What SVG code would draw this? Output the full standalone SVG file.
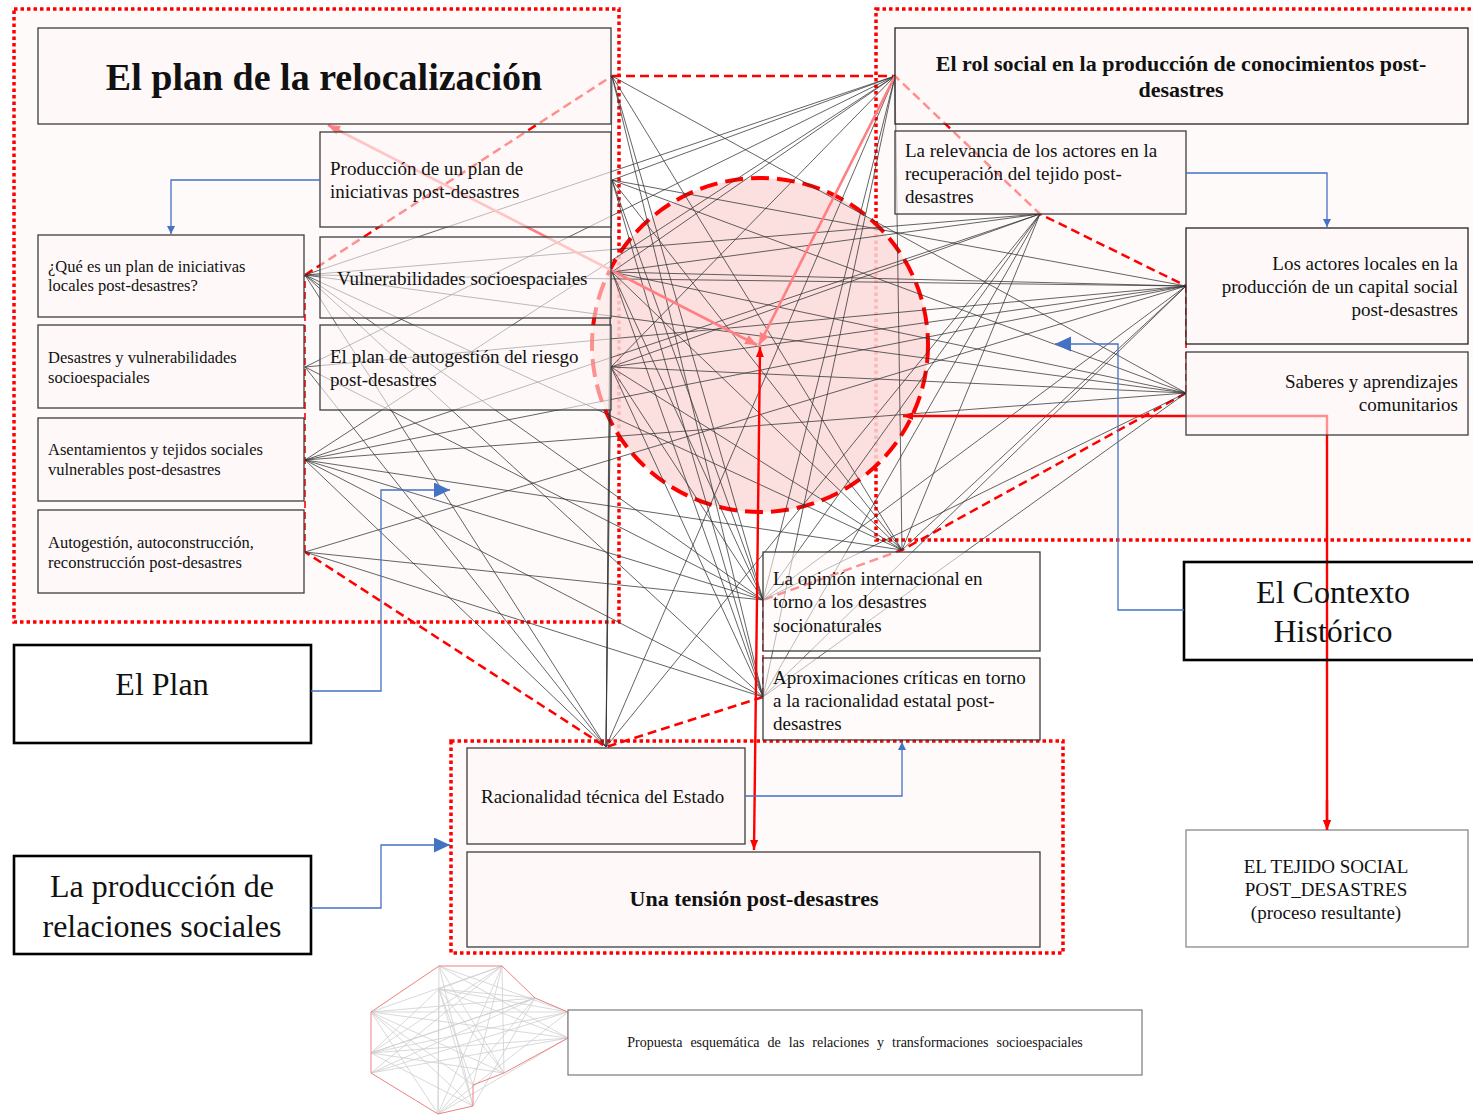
<svg xmlns="http://www.w3.org/2000/svg" width="1473" height="1115" viewBox="0 0 1473 1115">
<style>
.reg{fill:#fefafa;stroke:#ff0000;stroke-width:3.5;stroke-dasharray:3.5 3}
.box{fill:#fdf8f7;fill-opacity:0.58;stroke:#3c3c3c;stroke-width:1.3}
.bigbox{fill:#ffffff;stroke:#000;stroke-width:2.6}
.e line{stroke:#333;stroke-width:0.9;stroke-opacity:0.85}
.hull{fill:none;stroke:#ff0000;stroke-width:2.5;stroke-dasharray:9 5}
.hullthin{fill:none;stroke:#ff0000;stroke-width:1.6;stroke-dasharray:7 4}
.t{font-family:"Liberation Serif","Times New Roman",serif;fill:#111}
.t19{font-size:19px}
.t16{font-size:16.5px}
.big{font-size:32px}
.blue{fill:none;stroke:#4472c4;stroke-width:1.3}
.red{fill:none;stroke:#ff0000;stroke-width:2.4}
.pink{fill:none;stroke:#ff7f82;stroke-width:2.6}
.thumb line{stroke:#cfcfcf;stroke-width:0.8}
</style>
<defs>
<marker id="mBlueS" markerUnits="userSpaceOnUse" markerWidth="10" markerHeight="10" refX="8" refY="4" orient="auto"><path d="M0,0 L8,4 L0,8 z" fill="#4472c4"/></marker>
<marker id="mBlueL" markerUnits="userSpaceOnUse" markerWidth="18" markerHeight="16" refX="16" refY="7.5" orient="auto"><path d="M0,0 L16,7.5 L0,15 z" fill="#4472c4"/></marker>
<marker id="mRed" markerUnits="userSpaceOnUse" markerWidth="12" markerHeight="10" refX="10" refY="4" orient="auto-start-reverse"><path d="M0,0 L10,4 L0,8 z" fill="#ff0000"/></marker>
<marker id="mPink" markerUnits="userSpaceOnUse" markerWidth="14" markerHeight="12" refX="12" refY="5" orient="auto-start-reverse"><path d="M0,0 L12,5 L0,10 z" fill="#ff7f82"/></marker>
</defs>
<rect width="1473" height="1115" fill="#ffffff"/>

<g id="regions">
<rect class="reg" x="14" y="9" width="605" height="613"/>
<rect class="reg" x="876" y="9" width="620" height="531"/>
<rect class="reg" x="451" y="741" width="612" height="212"/>
</g>

<ellipse id="circle" cx="760" cy="345" rx="168" ry="167" fill="#fbd9d9" fill-opacity="0.85" stroke="#ff0000" stroke-width="4" stroke-dasharray="18 8"/>

<g id="connectors">
<g id="hull">
<path class="hull" d="M612,76 L895,76 L1040,214 L1186,286"/>
<path class="hullthin" d="M1186,286 L1186,393"/>
<path class="hull" d="M1186,393 L902,550 L763,600"/>
<path class="hullthin" d="M763,600 L763,697"/>
<path class="hull" d="M763,697 L606,747 L305,552"/>
<path class="hullthin" d="M305,552 L305,275"/>
<path class="hull" d="M305,275 L612,76"/>
</g>
<g class="e">
<line x1="612" y1="76" x2="1186" y2="393"/>
<line x1="612" y1="76" x2="902" y2="550"/>
<line x1="612" y1="76" x2="763" y2="600"/>
<line x1="612" y1="76" x2="763" y2="697"/>
<line x1="612" y1="76" x2="606" y2="747"/>
<line x1="612" y1="180" x2="895" y2="76"/>
<line x1="612" y1="180" x2="1186" y2="286"/>
<line x1="612" y1="180" x2="1186" y2="393"/>
<line x1="612" y1="180" x2="902" y2="550"/>
<line x1="612" y1="180" x2="763" y2="600"/>
<line x1="612" y1="180" x2="763" y2="697"/>
<line x1="612" y1="180" x2="606" y2="747"/>
<line x1="305" y1="275" x2="895" y2="76"/>
<line x1="305" y1="275" x2="1040" y2="214"/>
<line x1="305" y1="275" x2="1186" y2="286"/>
<line x1="305" y1="275" x2="1186" y2="393"/>
<line x1="305" y1="275" x2="902" y2="550"/>
<line x1="305" y1="275" x2="763" y2="600"/>
<line x1="305" y1="275" x2="763" y2="697"/>
<line x1="305" y1="275" x2="606" y2="747"/>
<line x1="612" y1="272" x2="895" y2="76"/>
<line x1="612" y1="272" x2="1040" y2="214"/>
<line x1="612" y1="272" x2="1186" y2="286"/>
<line x1="612" y1="272" x2="1186" y2="393"/>
<line x1="612" y1="272" x2="902" y2="550"/>
<line x1="612" y1="272" x2="763" y2="600"/>
<line x1="612" y1="272" x2="763" y2="697"/>
<line x1="305" y1="367" x2="895" y2="76"/>
<line x1="305" y1="367" x2="1186" y2="286"/>
<line x1="305" y1="367" x2="763" y2="600"/>
<line x1="305" y1="367" x2="606" y2="747"/>
<line x1="611" y1="367" x2="895" y2="76"/>
<line x1="611" y1="367" x2="1040" y2="214"/>
<line x1="611" y1="367" x2="1186" y2="286"/>
<line x1="611" y1="367" x2="1186" y2="393"/>
<line x1="611" y1="367" x2="902" y2="550"/>
<line x1="611" y1="367" x2="763" y2="600"/>
<line x1="611" y1="367" x2="763" y2="697"/>
<line x1="611" y1="367" x2="606" y2="747"/>
<line x1="305" y1="460" x2="895" y2="76"/>
<line x1="305" y1="460" x2="1040" y2="214"/>
<line x1="305" y1="460" x2="1186" y2="286"/>
<line x1="305" y1="460" x2="1186" y2="393"/>
<line x1="305" y1="460" x2="902" y2="550"/>
<line x1="305" y1="460" x2="763" y2="600"/>
<line x1="305" y1="460" x2="763" y2="697"/>
<line x1="305" y1="460" x2="606" y2="747"/>
<line x1="305" y1="552" x2="1186" y2="286"/>
<line x1="305" y1="552" x2="763" y2="600"/>
<line x1="305" y1="552" x2="763" y2="697"/>
<line x1="895" y1="76" x2="902" y2="550"/>
<line x1="895" y1="76" x2="763" y2="600"/>
<line x1="895" y1="76" x2="763" y2="697"/>
<line x1="895" y1="76" x2="606" y2="747"/>
<line x1="1040" y1="214" x2="902" y2="550"/>
<line x1="1040" y1="214" x2="763" y2="600"/>
<line x1="1040" y1="214" x2="763" y2="697"/>
<line x1="1040" y1="214" x2="606" y2="747"/>
<line x1="1186" y1="286" x2="902" y2="550"/>
<line x1="1186" y1="286" x2="763" y2="600"/>
<line x1="1186" y1="286" x2="763" y2="697"/>
<line x1="1186" y1="393" x2="763" y2="600"/>
<line x1="1186" y1="393" x2="763" y2="697"/>
</g>
<path class="pink" d="M328,125 L757,345" marker-start="url(#mPink)" marker-end="url(#mPink)"/>
<path class="pink" d="M895,76 L759,345" marker-end="url(#mPink)"/>
<path class="red" d="M903,416 H1327 V830" marker-start="url(#mRed)" marker-end="url(#mRed)"/>
</g>

<g id="n-relocalizacion"><rect class="box" x="38" y="28" width="573" height="96"/><text class="t" x="324" y="90" font-size="38" font-weight="bold" text-anchor="middle">El plan de la relocalización</text></g>
<g id="n-produccion"><rect class="box" x="320" y="132" width="291" height="95"/><text class="t t19" x="330" y="175">Producción de un plan de</text><text class="t t19" x="330" y="198">iniciativas post-desastres</text></g>
<g id="n-que-es"><rect class="box" x="38" y="235" width="266" height="82"/><text class="t t16" x="48" y="272">¿Qué es un plan de iniciativas</text><text class="t t16" x="48" y="291">locales post-desastres?</text></g>
<g id="n-vulnerabilidades"><rect class="box" x="320" y="237" width="291" height="81"/><text class="t t19" x="337" y="285">Vulnerabilidades socioespaciales</text></g>
<g id="n-desastres"><rect class="box" x="38" y="325" width="266" height="83"/><text class="t t16" x="48" y="363">Desastres y vulnerabilidades</text><text class="t t16" x="48" y="383">socioespaciales</text></g>
<g id="n-autogestion-riesgo"><rect class="box" x="320" y="325" width="291" height="85"/><text class="t t19" x="330" y="363">El plan de autogestión del riesgo</text><text class="t t19" x="330" y="386">post-desastres</text></g>
<g id="n-asentamientos"><rect class="box" x="38" y="418" width="266" height="83"/><text class="t t16" x="48" y="455">Asentamientos y tejidos sociales</text><text class="t t16" x="48" y="475">vulnerables post-desastres</text></g>
<g id="n-autoconstruccion"><rect class="box" x="38" y="510" width="266" height="83"/><text class="t t16" x="48" y="548">Autogestión, autoconstrucción,</text><text class="t t16" x="48" y="568">reconstrucción post-desastres</text></g>

<g id="n-rol-social"><rect class="box" x="895" y="28" width="573" height="96" style="stroke:#222"/><text class="t" x="1181" y="71" font-size="22" font-weight="bold" text-anchor="middle">El rol social en la producción de conocimientos post-</text><text class="t" x="1181" y="97" font-size="22" font-weight="bold" text-anchor="middle">desastres</text></g>
<g id="n-relevancia"><rect class="box" x="895" y="131" width="291" height="83"/><text class="t t19" x="905" y="157">La relevancia de los actores en la</text><text class="t t19" x="905" y="180">recuperación del tejido post-</text><text class="t t19" x="905" y="203">desastres</text></g>
<g id="n-actores"><rect class="box" x="1186" y="228" width="282" height="116" style="stroke:#222"/><text class="t t19" x="1458" y="270" text-anchor="end">Los actores locales en la</text><text class="t t19" x="1458" y="293" text-anchor="end">producción de un capital social</text><text class="t t19" x="1458" y="316" text-anchor="end">post-desastres</text></g>
<g id="n-saberes"><rect class="box" x="1186" y="352" width="282" height="83"/><text class="t t19" x="1458" y="388" text-anchor="end">Saberes y aprendizajes</text><text class="t t19" x="1458" y="411" text-anchor="end">comunitarios</text></g>

<g id="n-opinion"><rect class="box" x="763" y="552" width="277" height="99"/><text class="t t19" x="773" y="585">La opinión internacional en</text><text class="t t19" x="773" y="608">torno a los desastres</text><text class="t t19" x="773" y="632">socionaturales</text></g>
<g id="n-aproximaciones"><rect class="box" x="763" y="658" width="277" height="82"/><text class="t t19" x="773" y="684">Aproximaciones críticas en torno</text><text class="t t19" x="773" y="707">a la racionalidad estatal post-</text><text class="t t19" x="773" y="730">desastres</text></g>
<g id="n-racionalidad"><rect class="box" x="467" y="748" width="278" height="96"/><text class="t t19" x="481" y="803">Racionalidad técnica del Estado</text></g>
<g id="n-tension"><rect class="box" x="467" y="852" width="573" height="95"/><text class="t" x="754" y="906" font-size="22" font-weight="bold" text-anchor="middle">Una tensión post-desastres</text></g>

<g id="n-el-plan"><rect class="bigbox" x="14" y="645" width="297" height="98"/><text class="t big" x="162" y="695" text-anchor="middle">El Plan</text></g>
<g id="n-produccion-relaciones"><rect class="bigbox" x="14" y="856" width="297" height="98"/><text class="t big" x="162" y="897" text-anchor="middle">La producción de</text><text class="t big" x="162" y="937" text-anchor="middle">relaciones sociales</text></g>
<g id="n-contexto"><rect class="bigbox" x="1184" y="562" width="300" height="98" style="fill:none"/><text class="t big" x="1333" y="603" text-anchor="middle">El Contexto</text><text class="t big" x="1333" y="642" text-anchor="middle">Histórico</text></g>
<g id="n-tejido"><rect x="1186" y="830" width="282" height="117" fill="#ffffff" stroke="#8a8a8a" stroke-width="1.3"/><text class="t t19" x="1326" y="873" text-anchor="middle">EL TEJIDO SOCIAL</text><text class="t t19" x="1326" y="896" text-anchor="middle">POST_DESASTRES</text><text class="t t19" x="1326" y="919" text-anchor="middle">(proceso resultante)</text></g>

<g id="connectors-arrows">
<path class="red" d="M760,347 L754,850" marker-start="url(#mRed)" marker-end="url(#mRed)"/>
<path class="red" d="M1327,800 V830" marker-end="url(#mRed)"/>
<path class="blue" d="M320,180 H171 V234" marker-end="url(#mBlueS)"/>
<path class="blue" d="M1186,173 H1327 V227" marker-end="url(#mBlueS)"/>
<path class="blue" d="M311,691 H381 V490 H450" marker-end="url(#mBlueL)"/>
<path class="blue" d="M311,908 H381 V845 H450" marker-end="url(#mBlueL)"/>
<path class="blue" d="M1184,610 H1118 V344 H1055" marker-end="url(#mBlueL)"/>
<path class="blue" d="M745,796 H902 V742" marker-end="url(#mBlueS)"/>
</g>

<g id="n-leyenda">
<g class="thumb">
<line x1="439" y1="966" x2="438" y2="1114"/><line x1="439" y1="966" x2="473" y2="1106"/><line x1="439" y1="966" x2="504" y2="1073"/><line x1="439" y1="966" x2="568" y2="1038"/><line x1="439" y1="966" x2="568" y2="1012"/>
<line x1="502" y1="966" x2="504" y2="1073"/><line x1="502" y1="966" x2="371" y2="1012"/><line x1="502" y1="966" x2="371" y2="1053"/><line x1="502" y1="966" x2="371" y2="1073"/><line x1="502" y1="966" x2="438" y2="1114"/>
<line x1="535" y1="998" x2="371" y2="1012"/><line x1="535" y1="998" x2="371" y2="1073"/><line x1="535" y1="998" x2="438" y2="1114"/><line x1="535" y1="998" x2="371" y2="1053"/><line x1="535" y1="998" x2="473" y2="1106"/>
<line x1="568" y1="1012" x2="371" y2="1012"/><line x1="568" y1="1012" x2="371" y2="1053"/><line x1="568" y1="1012" x2="371" y2="1073"/><line x1="568" y1="1012" x2="438" y2="1114"/><line x1="568" y1="1012" x2="439" y2="989"/>
<line x1="568" y1="1038" x2="371" y2="1012"/><line x1="568" y1="1038" x2="371" y2="1053"/><line x1="568" y1="1038" x2="439" y2="989"/><line x1="568" y1="1038" x2="371" y2="1073"/><line x1="568" y1="1038" x2="438" y2="1114"/>
<line x1="504" y1="1073" x2="371" y2="1012"/><line x1="504" y1="1073" x2="439" y2="989"/><line x1="504" y1="1073" x2="371" y2="1053"/>
<line x1="473" y1="1085" x2="371" y2="1012"/><line x1="473" y1="1085" x2="439" y2="989"/><line x1="473" y1="1085" x2="502" y2="966"/>
<line x1="473" y1="1106" x2="371" y2="1012"/><line x1="473" y1="1106" x2="439" y2="989"/><line x1="473" y1="1106" x2="371" y2="1053"/>
<line x1="438" y1="1114" x2="371" y2="1012"/><line x1="438" y1="1114" x2="439" y2="989"/>
<line x1="439" y1="989" x2="502" y2="966"/><line x1="439" y1="989" x2="535" y2="998"/><line x1="439" y1="989" x2="371" y2="1053"/><line x1="371" y1="1053" x2="535" y2="998"/>
</g>
<polygon points="439,966 502,966 535,998 568,1012 568,1038 504,1073 473,1085 473,1106 438,1114 371,1073 371,1053 371,1012" fill="none" stroke="#f08080" stroke-width="1"/>
<rect x="568" y="1010" width="574" height="65" fill="#ffffff" stroke="#7a7a7a" stroke-width="1.2"/>
<text class="t" x="855" y="1047" font-size="14" text-anchor="middle" word-spacing="4.5">Propuesta esquemática de las relaciones y transformaciones socioespaciales</text>
</g>
</svg>
